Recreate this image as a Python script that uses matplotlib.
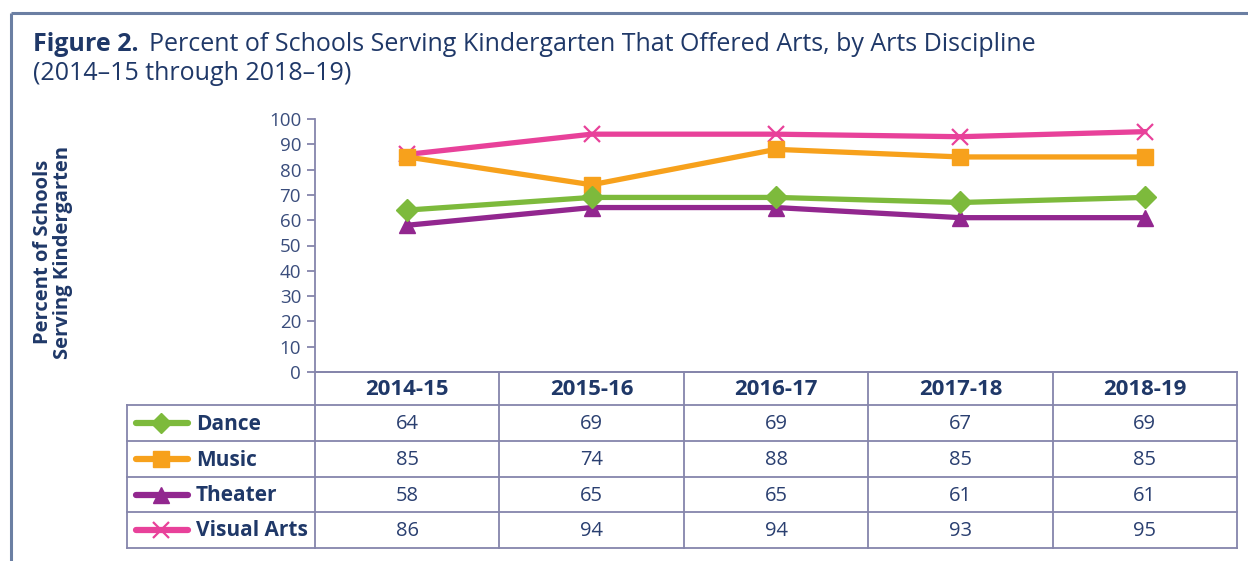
import numpy as np
import matplotlib.pyplot as plt

plt.rcParams['font.family'] = ['Open Sans', 'DejaVu Sans']

# Data
years = ['2014-15', '2015-16', '2016-17', '2017-18', '2018-19']
dance = [64, 69, 69, 67, 69]
music = [85, 74, 88, 85, 85]
theater = [58, 65, 65, 61, 61]
visual_arts = [86, 94, 94, 93, 95]

series = [
    ('Dance', dance, '#7dba3c', 'D'),
    ('Music', music, '#f7a11c', 's'),
    ('Theater', theater, '#92278f', '^'),
    ('Visual Arts', visual_arts, '#e8419a', 'x'),
]
draw_order = ['Visual Arts', 'Theater', 'Music', 'Dance']

navy = '#1f3868'
grid_c = '#8585ab'
frame_c = '#6b7fa3'

W, H = 1248, 561
fig = plt.figure(figsize=(W / 100, H / 100), dpi=100)

# pixel layout
x0, x1 = 315, 1237          # plot / data columns
y_top, y_zero = 119, 372    # 100 and 0
leg_x = 127
row_edges = [372, 405, 441, 477, 512, 548]

# overlay in pixel coordinates
ov = fig.add_axes([0, 0, 1, 1], zorder=0)
ov.set_xlim(0, W)
ov.set_ylim(H, 0)
ov.axis('off')

# outer frame
ov.plot([11, W], [13, 13], color=frame_c, lw=2.2, solid_capstyle='butt')
ov.plot([11, 11], [13, H], color=frame_c, lw=2.2, solid_capstyle='butt')

# title
ov.text(33, 51, 'Figure 2.', fontsize=18, fontweight='bold', color=navy, va='baseline')
ov.text(149, 51, 'Percent of Schools Serving Kindergarten That Offered Arts, by Arts Discipline',
        fontsize=18, color=navy, va='baseline')
ov.text(33, 80, '(2014\u201315 through 2018\u201319)', fontsize=18, color=navy, va='baseline')

# y label
ov.text(53, 252, 'Percent of Schools\nServing Kindergarten', rotation=90, ha='center', va='center',
        fontsize=14.5, fontweight='bold', color=navy, linespacing=1.05)

# main axes
ax = fig.add_axes([x0 / W, 1 - y_zero / H, (x1 - x0) / W, (y_zero - y_top) / H], zorder=2)
ax.patch.set_alpha(0)
ax.set_xlim(-0.5, len(years) - 0.5)
ax.set_ylim(0, 100)
ax.set_yticks(range(0, 101, 10))
ax.set_xticks([])
for s in ['top', 'right']:
    ax.spines[s].set_visible(False)
for s in ['left', 'bottom']:
    ax.spines[s].set_color(grid_c)
    ax.spines[s].set_linewidth(1.3)
ax.tick_params(axis='y', colors=grid_c, length=6, width=1.3, labelsize=13.5, labelcolor='#3a4d7c', pad=4)

xs = np.arange(len(years))
lookup = {name: (vals, c, m) for name, vals, c, m in series}
for name in draw_order:
    vals, c, m = lookup[name]
    if m == 'x':
        ax.plot(xs, vals, color=c, lw=3.8, marker=m, ms=12, mew=1.6, clip_on=False)
    elif m == 'D':
        ax.plot(xs, vals, color=c, lw=3.8, marker=m, ms=11, mec=c, clip_on=False)
    else:
        ax.plot(xs, vals, color=c, lw=3.8, marker=m, ms=12, mec=c, clip_on=False)

# table
col_w = (x1 - x0) / len(years)
col_edges = [x0 + i * col_w for i in range(len(years) + 1)]
lw_t = 1.3
ov.plot([x0, x1], [row_edges[0], row_edges[0]], color=grid_c, lw=lw_t)
for y in row_edges[1:]:
    ov.plot([leg_x, x1], [y, y], color=grid_c, lw=lw_t)
for x in col_edges:
    ov.plot([x, x], [row_edges[0], row_edges[-1]], color=grid_c, lw=lw_t)
ov.plot([leg_x, leg_x], [row_edges[1], row_edges[-1]], color=grid_c, lw=lw_t)

for i, yr in enumerate(years):
    cx = (col_edges[i] + col_edges[i + 1]) / 2
    ov.text(cx, (row_edges[0] + row_edges[1]) / 2 + 1, yr, ha='center', va='center',
            fontsize=16, fontweight='bold', color=navy)

for r, (name, vals, c, m) in enumerate(series):
    cy = (row_edges[r + 1] + row_edges[r + 2]) / 2
    ov.plot([136, 188], [cy, cy], color=c, lw=4.5, solid_capstyle='round')
    if m == 'x':
        ov.plot([161], [cy], marker=m, color=c, ms=11, mew=1.6)
    elif m == 'D':
        ov.plot([161], [cy], marker=m, color=c, ms=10)
    else:
        ov.plot([161], [cy], marker=m, color=c, ms=11)
    ov.text(196, cy + 1, name, ha='left', va='center', fontsize=15, fontweight='bold', color=navy)
    for i, v in enumerate(vals):
        cx = (col_edges[i] + col_edges[i + 1]) / 2
        ov.text(cx, cy + 1, str(v), ha='center', va='center', fontsize=14.5, color='#2a3f70')

fig.savefig('out.png', dpi=100)
